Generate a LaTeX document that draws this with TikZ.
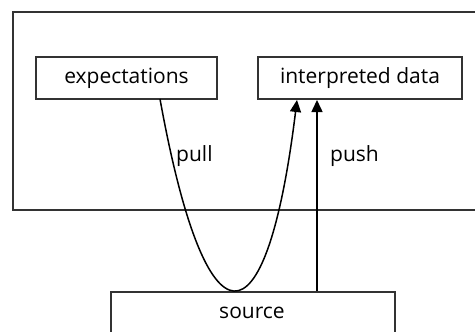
\documentclass[tikz,border=0pt]{standalone}
\usepackage{fontspec}
\setmainfont{Open Sans}
\usetikzlibrary{arrows.meta}
\begin{document}
\begin{tikzpicture}[x=1pt,y=-1pt,
  box/.style={draw=black!80,line width=1.9pt,rectangle,inner sep=0pt,
    font=\fontsize{21}{24}\selectfont},
  flow/.style={draw=black,line width=1.5pt,-{Triangle[length=12pt,width=11pt]}},
  lbl/.style={font=\fontsize{21}{24}\selectfont,inner sep=0pt}]
  \useasboundingbox (0,0) rectangle (475,332);
  \clip (0,0) rectangle (475,332);
  % enclosing frame, running off the right edge
  \node[box,minimum width=488pt,minimum height=198pt,anchor=north west] (frame) at (12,11) {};
  \node[box,minimum width=181pt,minimum height=42pt] (exp) at (126.5,78) {expectations};
  \node[box,minimum width=204pt,minimum height=42pt] (interp) at (360,78) {interpreted data};
  \node[box,minimum width=284pt,minimum height=60pt,anchor=north west] (src) at (110,291) {};
  \node[lbl] (srctext) at (252,313) {source};
  \coordinate (pullstart) at (160,99);
  \coordinate (pullend) at (297,100);
  \coordinate (pushstart) at (317,291);
  \coordinate (pushend) at (317,100);
  \draw[flow] (pullstart) .. controls (206,353) and (266,353) .. (pullend);
  \draw[flow] (pushstart) -- (pushend);
  \node[lbl,anchor=west] (pull) at (176,156) {pull};
  \node[lbl,anchor=west] (push) at (330,156) {push};
\end{tikzpicture}
\end{document}
